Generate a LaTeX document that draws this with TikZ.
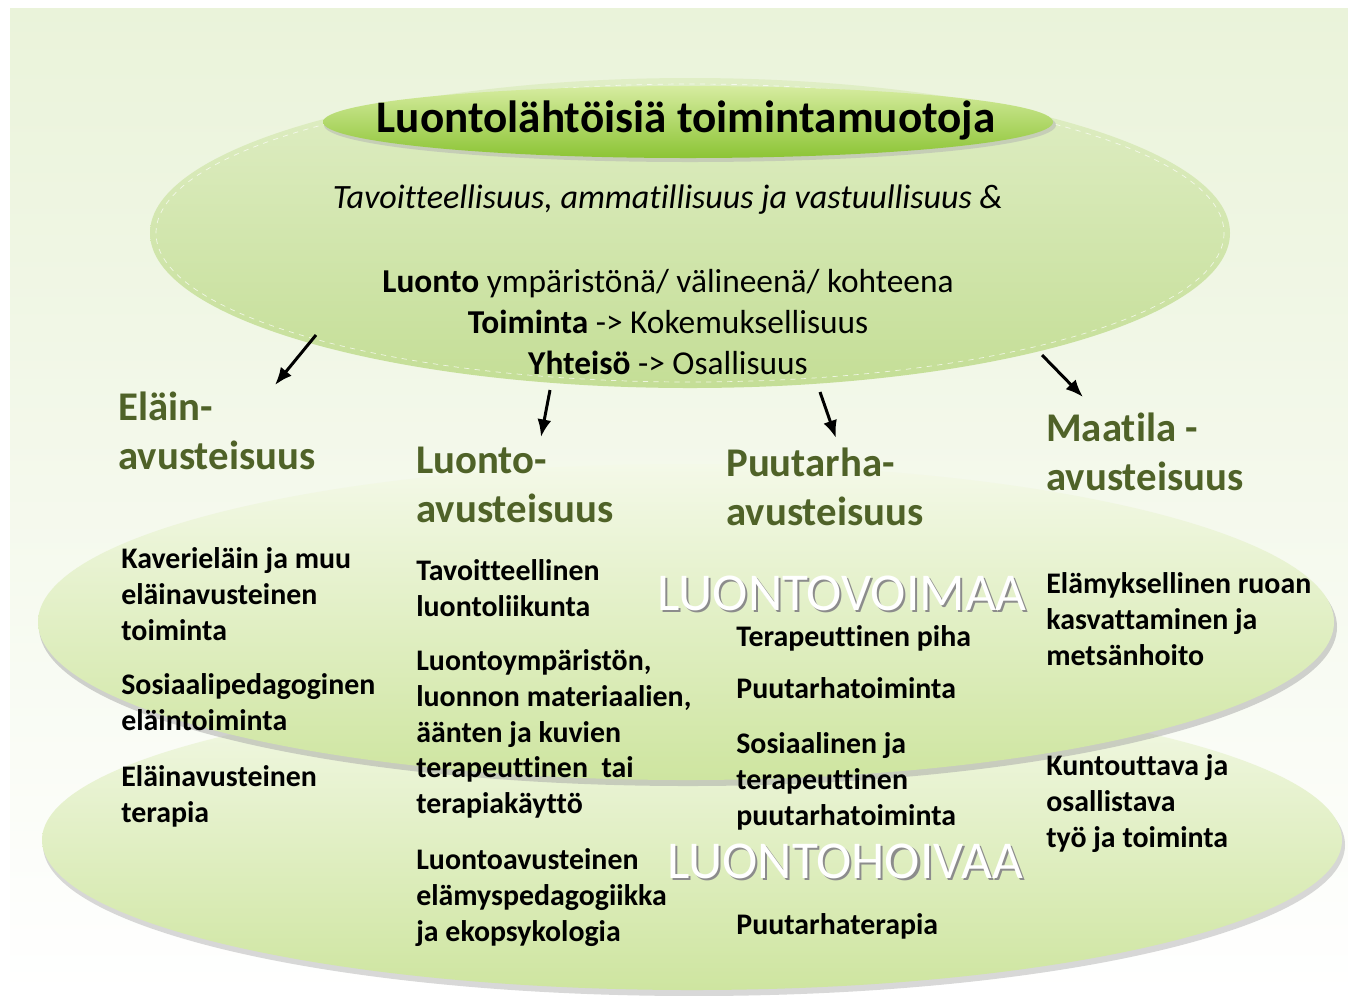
\documentclass[tikz,border=0pt]{standalone}
\usepackage{fontspec}
\setmainfont{Carlito}[Ligatures=NoCommon]
\usetikzlibrary{arrows.meta}
\definecolor{headgreen}{RGB}{79,98,40}
\definecolor{bgtop}{RGB}{234,243,218}
\definecolor{laytop}{RGB}{244,249,232}
\definecolor{laybot}{RGB}{206,229,160}
\definecolor{bigtop}{RGB}{224,238,198}
\definecolor{bigbot}{RGB}{196,222,150}
\definecolor{titletop}{RGB}{214,236,160}
\definecolor{titlebot}{RGB}{140,196,52}
\newcommand{\wmark}[1]{\makebox[0pt][l]{\hspace{1.2pt}\raisebox{-1.2pt}{\color{black!45}#1}}{\color{white}#1}}

\begin{document}
\begin{tikzpicture}[x=0.02cm,y=-0.02cm,
		headtxt/.style={anchor=north west,inner sep=0,align=left,text=headgreen,font=\fontsize{23.2}{27.8}\selectfont\bfseries},
		itemtxt/.style={anchor=north west,inner sep=0,align=left,font=\fontsize{17}{20.4}\selectfont\bfseries},
		wmtxt/.style={inner sep=0,font=\fontsize{30.3}{32}\selectfont},
		arr/.style={-{Latex[length=10pt,width=8pt]},line width=1.7pt}]
			          %\draw[help lines] (0,0) grid[step=100] (1348,995);
			          \useasboundingbox (0,0) rectangle (1348,995);
			          \shade[top color=bgtop,bottom color=white] (10,8) rectangle (1348,995);
			          % kerrokset
			          \fill[black!30,opacity=.5] (694,845) ellipse [x radius=651,y radius=151];
			          \shade[top color=laytop,bottom color=laybot] (692,840) ellipse [x radius=650,y radius=150];
			          \fill[black!35,opacity=.5] (688,627) ellipse [x radius=649,y radius=159];
			          \shade[top color=laytop,bottom color=laybot] (686,622) ellipse [x radius=648,y radius=158];
			          % iso ellipsi
			          \shade[top color=bigtop,bottom color=bigbot] (690,233) ellipse [x radius=540,y radius=155];
			          \draw[white,dashed,opacity=.7] (690,233) ellipse [x radius=534,y radius=149];
			          \fill[black!30,opacity=.5] (690,125) ellipse [x radius=366,y radius=37];
			          \shade[top color=titletop,bottom color=titlebot] (688,122) ellipse [x radius=365,y radius=36];
			          \node[font=\fontsize{25.7}{27}\selectfont\bfseries] (title) at (686,120) {Luontolähtöisiä toimintamuotoja};
			          \node[font=\fontsize{19.4}{22}\selectfont\itshape] (tavoite) at (668,200) {Tavoitteellisuus, ammatillisuus ja vastuullisuus \&};
			          \node[align=center,font=\fontsize{19}{23.2}\selectfont] (arvot) at (668,322)
			          	{\textbf{Luonto} ympäristönä/ välineenä/ kohteena\\ \textbf{Toiminta} -> Kokemuksellisuus\\ \textbf{Yhteisö} -> Osallisuus};
			          % vesileimat
			          \node[wmtxt] (voima) at (842,594) {\wmark{LUONTOVOIMAA}};
			          \node[wmtxt] (hoiva) at (845,862) {\wmark{LUONTOHOIVAA}};
			          % otsikot
			          \node[headtxt] (elain) at (118,392) {Eläin-\\avusteisuus};
			          \node[headtxt] (luonto) at (416,447) {Luonto-\\avusteisuus};
			          \node[headtxt] (puutarha) at (726,448) {Puutarha-\\avusteisuus};
			          \node[headtxt] (maatila) at (1046,413) {Maatila -\\avusteisuus};
			          % sisalto
			          \node[itemtxt] (el1) at (121,547) {Kaverieläin ja muu\\eläinavusteinen\\toiminta};
			          \node[itemtxt] (el2) at (121,673) {Sosiaalipedagoginen\\eläintoiminta};
			          \node[itemtxt] (el3) at (121,765) {Eläinavusteinen\\terapia};
			          \node[itemtxt] (lu1) at (416,559) {Tavoitteellinen\\luontoliikunta};
			          \node[itemtxt] (lu2) at (416,649) {Luontoympäristön,\\luonnon materiaalien,\\äänten ja kuvien\\terapeuttinen~ tai\\terapiakäyttö};
			          \node[itemtxt] (lu3) at (416,848) {Luontoavusteinen\\elämyspedagogiikka\\ja ekopsykologia};
			          \node[itemtxt] (pu1) at (736,625) {Terapeuttinen piha};
			          \node[itemtxt] (pu2) at (736,677) {Puutarhatoiminta};
			          \node[itemtxt] (pu3) at (736,732) {Sosiaalinen ja\\terapeuttinen\\puutarhatoiminta};
			          \node[itemtxt] (pu4) at (736,913) {Puutarhaterapia};
			          \node[itemtxt] (ma1) at (1046,572) {Elämyksellinen ruoan\\kasvattaminen ja\\metsänhoito};
			          \node[itemtxt] (ma2) at (1046,754) {Kuntouttava ja\\osallistava\\työ ja toiminta};
			          % nuolet
			          \coordinate (a1) at (316,335);
			          \coordinate (b1) at (275,385);
			          \coordinate (a2) at (550,390);
			          \coordinate (b2) at (541,437);
			          \coordinate (a3) at (820,392);
			          \coordinate (b3) at (836,438);
			          \coordinate (a4) at (1042,355);
			          \coordinate (b4) at (1083,397);
			          \draw[arr] (a1) -- (b1);
			          \draw[arr] (a2) -- (b2);
			          \draw[arr] (a3) -- (b3);
			          \draw[arr] (a4) -- (b4);
\end{tikzpicture}
\end{document}
